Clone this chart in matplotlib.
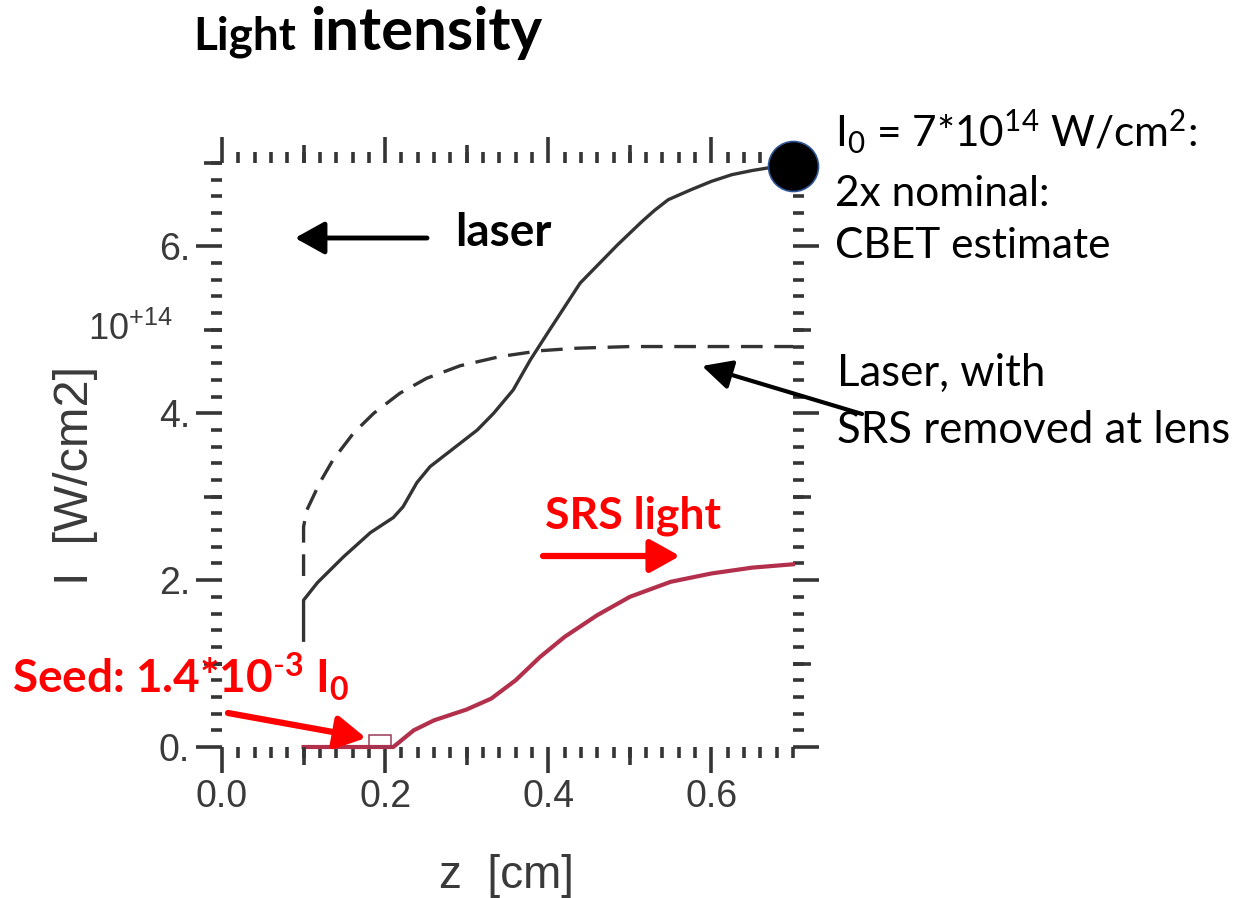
import matplotlib
matplotlib.use("Agg")
import matplotlib.pyplot as plt
from matplotlib.patches import Rectangle, FancyArrowPatch
from matplotlib.ticker import MultipleLocator, FixedLocator, NullLocator

# Intensities in units of 1e14 W/cm^2 along z [cm]
laser_z = [0.100, 0.100, 0.117, 0.149, 0.182, 0.210, 0.222, 0.239, 0.255, 0.284,
           0.313, 0.333, 0.357, 0.378, 0.399, 0.423, 0.439, 0.455, 0.485, 0.515,
           0.530, 0.547, 0.575, 0.600, 0.625, 0.650, 0.675, 0.700]
laser_I = [1.28, 1.76, 1.97, 2.28, 2.57, 2.75, 2.88, 3.17, 3.36, 3.58,
           3.80, 4.00, 4.28, 4.64, 4.96, 5.32, 5.56, 5.72, 6.02, 6.30,
           6.43, 6.56, 6.68, 6.78, 6.86, 6.91, 6.95, 6.97]

no_srs_z = [0.100, 0.100, 0.104, 0.120, 0.136, 0.161, 0.186, 0.218, 0.251, 0.292,
            0.341, 0.390, 0.435, 0.500, 0.600, 0.700]
no_srs_I = [2.05, 2.64, 2.84, 3.17, 3.44, 3.76, 4.00, 4.24, 4.42, 4.57,
            4.68, 4.75, 4.78, 4.80, 4.80, 4.80]

srs_z = [0.10, 0.21, 0.235, 0.26, 0.30, 0.33, 0.36, 0.39, 0.42, 0.46,
         0.50, 0.55, 0.60, 0.65, 0.70]
srs_I = [0.0, 0.0, 0.20, 0.32, 0.45, 0.58, 0.80, 1.08, 1.32, 1.58,
         1.80, 1.98, 2.08, 2.15, 2.19]

seed_z = [0.180, 0.207]
seed_I = 0.14

I0_point = (0.70, 6.97)

x_ticks = [0.0, 0.2, 0.4, 0.6]
x_tick_labels = ["0.0", "0.2", "0.4", "0.6"]
x_mid_ticks = [0.1, 0.3, 0.5]
y_ticks = [0, 2, 4, 6]
y_tick_labels = ["0.", "2.", "4.", "6."]
y_mid_ticks = [1, 3, 5, 7]

W, H = 1236, 898
plt.rcParams["mathtext.fontset"] = "custom"
plt.rcParams["mathtext.rm"] = "Lato"
plt.rcParams["mathtext.it"] = "Lato:italic"
plt.rcParams["mathtext.bf"] = "Lato:bold"
plt.rcParams["mathtext.default"] = "regular"

fig = plt.figure(figsize=(W / 100, H / 100), dpi=100)


def fx(px):
    return px / W


def fy(py):
    return 1 - py / H


ax_rect = [fx(222), fy(747), fx(793) - fx(222), fy(163) - fy(747)]
axis_grey = "#353535"


def frame(a):
    a.set_xlim(0, 0.7)
    a.set_ylim(0, 7)
    for s in a.spines.values():
        s.set_visible(False)


ax = fig.add_axes(ax_rect)
frame(ax)
ax.xaxis.set_major_locator(FixedLocator(x_ticks))
ax.set_xticklabels(x_tick_labels)
ax.xaxis.set_minor_locator(MultipleLocator(0.02))
ax.yaxis.set_major_locator(FixedLocator(y_ticks))
ax.set_yticklabels(y_tick_labels)
ax.yaxis.set_minor_locator(MultipleLocator(0.2))
ax.tick_params(which="both", direction="out", top=True, right=True,
               color=axis_grey, width=2.6)
ax.tick_params(which="major", length=19, labelsize=27, labelcolor="#3a3a3a",
               pad=4)
ax.tick_params(which="minor", length=8)
for lab in ax.get_xticklabels() + ax.get_yticklabels():
    lab.set_family("Liberation Sans")

# medium-length ticks at the odd tenths / odd integers
ax2 = fig.add_axes(ax_rect)
frame(ax2)
ax2.patch.set_visible(False)
ax2.xaxis.set_major_locator(FixedLocator(x_mid_ticks))
ax2.yaxis.set_major_locator(FixedLocator(y_mid_ticks))
ax2.xaxis.set_minor_locator(NullLocator())
ax2.yaxis.set_minor_locator(NullLocator())
ax2.tick_params(which="major", direction="out", top=True, right=True,
                length=13, width=2.6, color=axis_grey,
                labelbottom=False, labelleft=False)

# curves
ax.plot(laser_z, laser_I, color="#333333", lw=2.4, solid_joinstyle="round",
        zorder=3)
ax.plot(no_srs_z, no_srs_I, color="#333333", lw=2.4, dashes=(6.5, 3.5),
        zorder=3)
ax.plot(srs_z, srs_I, color="#b3304c", lw=3.0, clip_on=False,
        solid_joinstyle="round", zorder=3)
ax.add_patch(Rectangle((seed_z[0], 0), seed_z[1] - seed_z[0], seed_I,
                       fill=False, ec="#9a3a55", lw=1.1, zorder=4,
                       clip_on=False))
# I0 marker sits on the top layer so it covers the frame ticks
ax2.plot([I0_point[0]], [I0_point[1]], "o", ms=36, mfc="black",
         mec="#2f5597", mew=1.2, clip_on=False, zorder=6)

# axis labels
ax.text(-0.16, 0.714, r"10$^{+14}$", transform=ax.transAxes, fontsize=26,
        color="#3a3a3a", family="Liberation Sans", ha="center", va="center",
        math_fontfamily="dejavusans")
fig.text(fx(75), fy(475), "I  [W/cm2]", rotation=90, fontsize=35,
         color="#3a3a3a", family="Liberation Sans", ha="center", va="center")
fig.text(fx(506), fy(876), "z  [cm]", fontsize=33, color="#3a3a3a",
         family="Liberation Sans", ha="center", va="center")

# title
fig.text(fx(193), fy(50), "Light", fontsize=33, weight="bold",
         family="Lato", ha="left", va="baseline")
fig.text(fx(310), fy(50), "intensity", fontsize=43, weight="bold",
         family="Lato", ha="left", va="baseline")

# side notes
note_kw = dict(fontsize=30.5, family="Lato", ha="left", va="baseline",
               color="black")
fig.text(fx(835), fy(147), r"I$_0$ = 7*10$^{14}$ W/cm$^2$:", **note_kw)
fig.text(fx(835), fy(206), "2x nominal:", **note_kw)
fig.text(fx(835), fy(258), "CBET estimate", **note_kw)
note_kw["fontsize"] = 31.5
fig.text(fx(837), fy(386), "Laser, with", **note_kw)
fig.text(fx(837), fy(443), "SRS removed at lens", **note_kw)

fig.text(fx(455), fy(246), "laser", fontsize=33, weight="bold",
         family="Lato", ha="left", va="baseline")
fig.text(fx(545), fy(528), "SRS light", fontsize=32, weight="bold",
         family="Lato", color="#ff0000", ha="left", va="baseline")
fig.text(fx(12), fy(693), r"Seed: 1.4*10$^{\text{-}3}$ I$_0$", fontsize=33,
         weight="bold", family="Lato", color="#ff0000", ha="left",
         va="baseline")


def arrow(p0, p1, color, lw, hl, hw):
    a = FancyArrowPatch((fx(p0[0]), fy(p0[1])), (fx(p1[0]), fy(p1[1])),
                        transform=fig.transFigure,
                        arrowstyle=f"-|>,head_length={hl},head_width={hw}",
                        color=color, lw=lw, shrinkA=0, shrinkB=0,
                        mutation_scale=20, zorder=7)
    fig.add_artist(a)


arrow((427, 238), (295, 238), "black", 3.5, 0.9, 0.5)
arrow((862, 414), (702, 366), "black", 3.0, 0.9, 0.45)
arrow((543, 556), (680, 556), "#ff0000", 4.5, 0.9, 0.5)
arrow((228, 713), (366, 738), "#ff0000", 4.5, 0.9, 0.5)

fig.savefig("out.png", dpi=100, facecolor="white")
